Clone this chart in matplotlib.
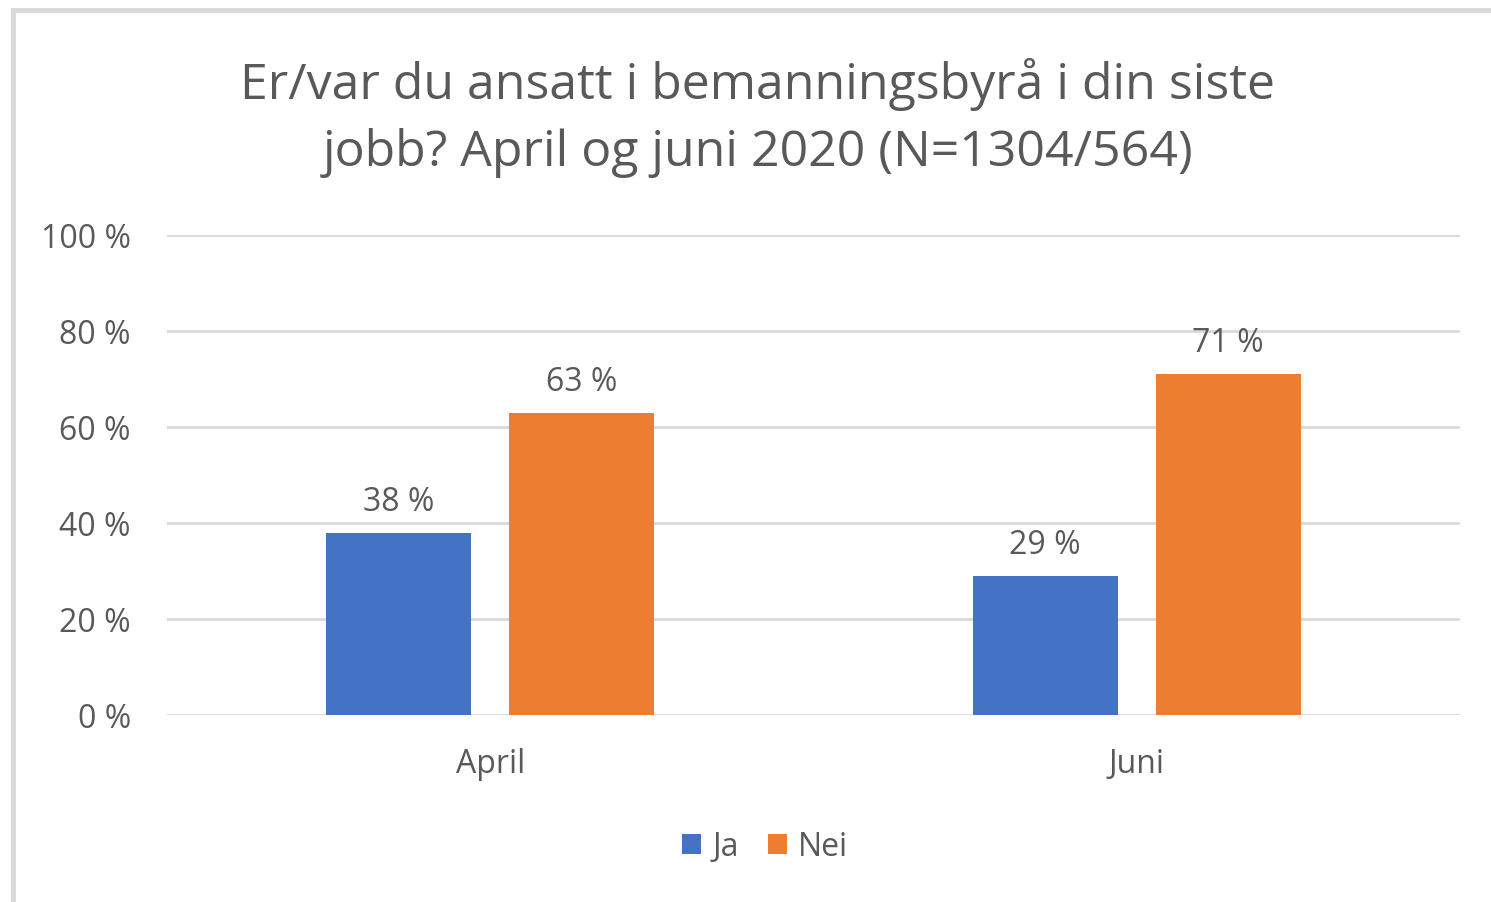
import matplotlib
matplotlib.use("Agg")
import matplotlib.pyplot as plt
from matplotlib.patches import Rectangle
import numpy as np

categories = ["April", "Juni"]
ja_values = [38, 29]
nei_values = [63, 71]
series_names = ["Ja", "Nei"]
yticks = [0, 20, 40, 60, 80, 100]
title = "Er/var du ansatt i bemanningsbyrå i din siste\njobb? April og juni 2020 (N=1304/564)"

plt.rcParams['font.family'] = ['Open Sans', 'DejaVu Sans']
W, H = 1491, 902
fig = plt.figure(figsize=(W/100, H/100), dpi=100)
fig.patch.set_facecolor('white')

# outer frame (top and left border)
fig.add_artist(Rectangle((13/W, -0.1), 1.2, (H-10)/H + 0.1, transform=fig.transFigure,
                         fill=False, edgecolor='#d9d9d9', linewidth=3.5))

ax = fig.add_axes([167/W, 1-715/H, (1460-167)/W, (715-235)/H])
x = np.arange(len(categories))
bw = 0.224
off = 0.1415
blue = '#4472c4'
orange = '#ed7d31'
b1 = ax.bar(x - off, ja_values, bw, color=blue, label=series_names[0], zorder=3)
b2 = ax.bar(x + off, nei_values, bw, color=orange, label=series_names[1], zorder=3)

fs = 23
ax.set_xlim(-0.5, len(categories) - 0.5)
ax.set_ylim(0, 100)
ax.set_yticks(yticks)
ax.set_yticklabels([f"{v} %" for v in yticks])
ax.set_xticks(x)
ax.set_xticklabels(categories)
for s in ax.spines.values():
    s.set_visible(False)
ax.grid(axis='y', color='#d9d9d9', linewidth=2, zorder=0)
ax.set_axisbelow(True)
ax.tick_params(axis='both', length=0, labelsize=fs, colors='#595959')
ax.tick_params(axis='y', pad=26)
ax.tick_params(axis='x', pad=24)

for bars, vals in ((b1, ja_values), (b2, nei_values)):
    for r, v in zip(bars, vals):
        ax.annotate(f"{v} %", (r.get_x() + r.get_width()/2, v), xytext=(0, 10),
                    textcoords='offset points', ha='center', va='bottom',
                    fontsize=fs, color='#595959')

fig.text(758/W, 1-118/H, title, ha='center', va='center', fontsize=36,
         color='#595959', linespacing=1.45)

fig.legend(handles=[b1, b2], labels=series_names, loc='center',
           bbox_to_anchor=(765/W, 1-847/H), ncol=2, frameon=False,
           fontsize=fs, handlelength=0.6, handleheight=0.6, handletextpad=0.35,
           columnspacing=0.9, labelcolor='#595959')

fig.savefig("out.png", dpi=100)
